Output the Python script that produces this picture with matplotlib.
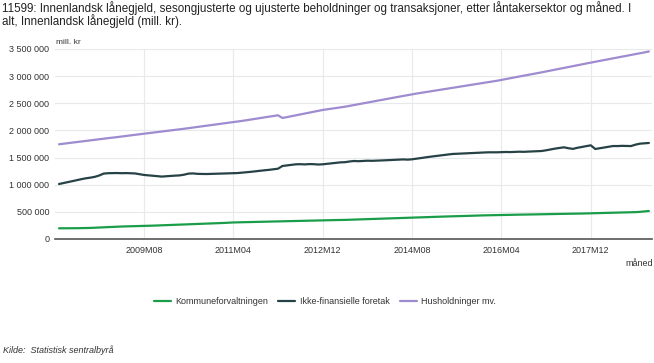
import matplotlib
matplotlib.use("Agg")
import matplotlib.pyplot as plt

# monthly values, mill. kr, 2008M01 .. 2019M01
kommune = [
    197, 197, 198, 198, 199, 200, 201, 204, 208, 212, 216, 220,
    224, 227, 230, 232, 234, 236, 238, 240, 243, 246, 249, 252,
    255, 258, 261, 264, 267, 270, 273, 276, 279, 282, 285, 288,
    292, 296, 301, 305, 307, 309, 311, 313, 315, 317, 319, 321,
    323, 325, 327, 329, 331, 333, 335, 337, 338, 340, 342, 344,
    346, 347, 349, 350, 352, 355, 358, 360, 363, 366, 368, 371,
    374, 377, 379, 382, 385, 388, 390, 393, 396, 399, 402, 405,
    408, 410, 413, 415, 418, 420, 423, 425, 428, 430, 432, 435,
    437, 439, 440, 442, 443, 445, 447, 448, 450, 451, 453, 454,
    456, 457, 459, 460, 462, 463, 465, 466, 468, 469, 471, 473,
    475, 477, 479, 481, 483, 485, 488, 490, 492, 495, 500, 508,
    516,
]
foretak = [
    1013, 1030, 1048, 1066, 1085, 1102, 1118, 1130, 1145, 1170, 1205, 1212,
    1214, 1215, 1212, 1214, 1210, 1208, 1195, 1180, 1172, 1165, 1158, 1150,
    1155, 1162, 1168, 1172, 1185, 1205, 1208, 1200, 1198, 1197, 1200, 1203,
    1205, 1207, 1209, 1210, 1215, 1222, 1230, 1238, 1248, 1258, 1266, 1274,
    1285, 1295, 1345, 1355, 1367, 1376, 1378, 1374, 1380, 1378, 1372, 1376,
    1385, 1395, 1405, 1412, 1415, 1428, 1437, 1433, 1438, 1442, 1440, 1443,
    1446, 1450, 1455, 1458, 1462, 1466, 1462, 1468, 1480, 1492, 1505, 1515,
    1525, 1535, 1546, 1556, 1566, 1570, 1575, 1580, 1584, 1588, 1591, 1594,
    1597, 1596, 1597, 1600, 1603, 1601, 1605, 1608, 1606, 1610, 1614, 1617,
    1621, 1634, 1650, 1665, 1678, 1689, 1672, 1660, 1680, 1695, 1710, 1726,
    1658, 1672, 1685, 1700, 1713, 1712, 1716, 1714, 1712, 1738, 1756, 1762,
    1769,
]
husholdninger = [
    1745, 1755, 1766, 1776, 1786, 1797, 1807, 1817, 1827, 1838, 1848, 1858,
    1867, 1877, 1888, 1898, 1909, 1919, 1929, 1940, 1950, 1960, 1970, 1979,
    1989, 2000, 2010, 2021, 2031, 2042, 2053, 2063, 2074, 2084, 2095, 2106,
    2117, 2130, 2140, 2150, 2163, 2176, 2189, 2202, 2215, 2228, 2240, 2252,
    2265, 2279, 2229, 2245, 2262, 2279, 2295, 2311, 2328, 2344, 2360, 2377,
    2389, 2401, 2413, 2425, 2437, 2452, 2467, 2483, 2498, 2513, 2529, 2544,
    2559, 2574, 2590, 2605, 2620, 2635, 2651, 2666, 2679, 2692, 2706, 2719,
    2732, 2745, 2758, 2771, 2784, 2797, 2810, 2823, 2836, 2850, 2863, 2876,
    2889, 2902, 2915, 2931, 2946, 2962, 2977, 2993, 3008, 3024, 3039, 3055,
    3070, 3087, 3103, 3119, 3135, 3152, 3168, 3184, 3200, 3217, 3233, 3250,
    3265, 3281, 3297, 3312, 3328, 3344, 3359, 3375, 3390, 3406, 3421, 3437,
    3455,
]
series_names = ["Kommuneforvaltningen", "Ikke-finansielle foretak", "Husholdninger mv."]
series_colors = ["#1a9d49", "#274247", "#9f8bcf"]

tick_months = [19, 39, 59, 79, 99, 119]
tick_labels = ["2009M08", "2011M04", "2012M12", "2014M08", "2016M04", "2017M12"]
y_ticks = [0, 500000, 1000000, 1500000, 2000000, 2500000, 3000000, 3500000]

plt.rcParams["font.family"] = ["Liberation Sans", "DejaVu Sans"]

W, H = 654, 363
fig = plt.figure(figsize=(W / 100, H / 100), dpi=100)
ax = fig.add_axes((55 / W, 1 - 239 / H, (652 - 55) / W, (239 - 49) / H))

months = list(range(len(husholdninger)))
for vals, name, col in zip([kommune, foretak, husholdninger], series_names, series_colors):
    ax.plot(months, [v * 1000 for v in vals], color=col, lw=1.6, label=name,
            solid_capstyle="round", solid_joinstyle="round")

ax.set_xlim(-0.9, 132.7)
ax.set_ylim(0, 3500000)
ax.set_yticks(y_ticks)
ax.set_yticklabels([f"{v:,}".replace(",", " ") for v in y_ticks])
ax.set_xticks(tick_months)
ax.set_xticklabels(tick_labels)
ax.tick_params(axis="both", length=0, labelsize=6.5, colors="#333333")
ax.tick_params(axis="y", pad=4)
ax.tick_params(axis="x", pad=5)
ax.grid(True, color="#e6eaea", lw=0.8)
ax.set_axisbelow(True)
for side in ["top", "right", "left"]:
    ax.spines[side].set_visible(False)
ax.spines["bottom"].set_color("#555555")
ax.spines["bottom"].set_linewidth(1.2)

fig.text(2 / W, 1 - 8 / H,
         "11599: Innenlandsk lånegjeld, sesongjusterte og ujusterte beholdninger og transaksjoner, etter låntakersektor og måned. I",
         fontsize=8.4, color="#222222", va="center", ha="left")
fig.text(2 / W, 1 - 21.5 / H, "alt, Innenlandsk lånegjeld (mill. kr).",
         fontsize=8.4, color="#222222", va="center", ha="left")
fig.text(56 / W, 1 - 43 / H, "mill. kr", fontsize=6, color="#333333", va="center", ha="left")
fig.text(653 / W, 1 - 263 / H, "måned", fontsize=6.5, color="#333333", va="center", ha="right")
fig.text(3 / W, 1 - 350 / H, "Kilde:  Statistisk sentralbyrå", fontsize=6.5, style="italic",
         color="#333333", va="center", ha="left")

fig.legend(loc="center", bbox_to_anchor=(325 / W, 1 - 302 / H), ncol=3, frameon=False,
           fontsize=6.5, handlelength=1.9, handletextpad=0.5, columnspacing=1.1,
           labelcolor="#333333")

fig.savefig("out.png", dpi=100)
